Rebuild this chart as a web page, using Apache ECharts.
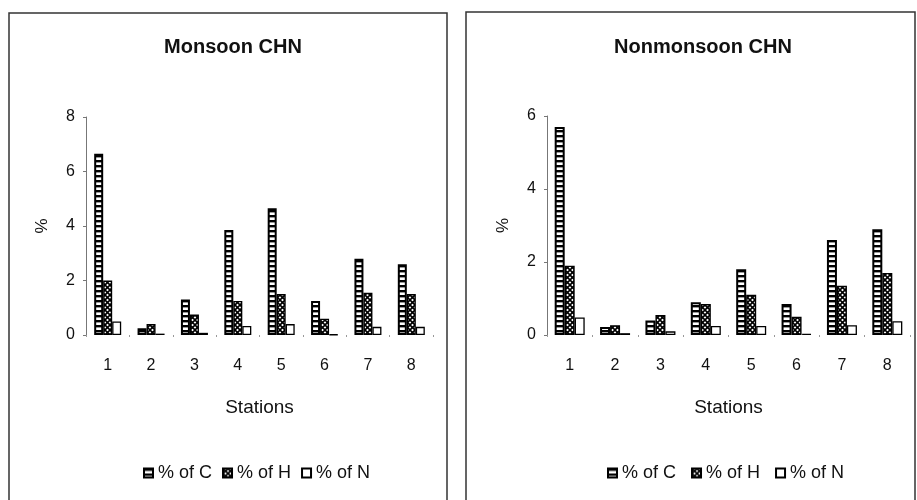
<!DOCTYPE html>
<html>
<head>
<meta charset="utf-8">
<script src="https://cdn.jsdelivr.net/npm/echarts@6/dist/echarts.min.js"></script>
<style>
  html, body { margin: 0; padding: 0; background: #fff; }
  #chart { width: 917px; height: 500px; }
</style>
</head>
<body>
<div id="chart"></div>
<script>
// ---- data ----
const stations = ['1', '2', '3', '4', '5', '6', '7', '8'];
const seriesNames = ['% of C', '% of H', '% of N'];
const monsoonC = [6.65, 0.25, 1.3, 3.85, 4.65, 1.25, 2.8, 2.6];
const monsoonH = [2.0, 0.4, 0.75, 1.25, 1.5, 0.6, 1.55, 1.5];
const monsoonN = [0.5, 0.05, 0.08, 0.33, 0.4, 0.02, 0.3, 0.3];
const nonmonsoonC = [5.7, 0.22, 0.4, 0.9, 1.8, 0.85, 2.6, 2.9];
const nonmonsoonH = [1.9, 0.27, 0.55, 0.85, 1.1, 0.5, 1.35, 1.7];
const nonmonsoonN = [0.48, 0.05, 0.1, 0.25, 0.25, 0.03, 0.27, 0.38];
const monsoonTicks = { max: 8, interval: 2 };
const nonmonsoonTicks = { max: 6, interval: 2 };

// ---- patterns ----
function stripePattern() {
  const c = document.createElement('canvas');
  c.width = 8; c.height = 5;
  const g = c.getContext('2d');
  g.fillStyle = '#fff'; g.fillRect(0, 0, 8, 5);
  g.fillStyle = '#000'; g.fillRect(0, 0, 8, 2.4);
  return c;
}
function hatchPattern() {
  const c = document.createElement('canvas');
  c.width = 5; c.height = 5;
  const g = c.getContext('2d');
  g.fillStyle = '#fff'; g.fillRect(0, 0, 5, 5);
  g.strokeStyle = '#000'; g.lineWidth = 1.6;
  g.beginPath();
  g.moveTo(0, 0); g.lineTo(5, 5);
  g.moveTo(5, 0); g.lineTo(0, 5);
  g.stroke();
  return c;
}
const styles = [
  { color: { image: stripePattern(), repeat: 'repeat' }, borderColor: '#000', borderWidth: 2 },
  { color: { image: hatchPattern(), repeat: 'repeat' }, borderColor: '#000', borderWidth: 1.4 },
  { color: '#fff', borderColor: '#000', borderWidth: 1.3 }
];

const FONT = 'Liberation Sans, Arial, sans-serif';

function makeSeries(idx, arrs, bw) {
  return arrs.map((d, i) => ({
    name: seriesNames[i],
    type: 'bar',
    xAxisIndex: idx,
    yAxisIndex: idx,
    data: d,
    barWidth: bw,
    barGap: '0%',
    itemStyle: styles[i],
    emphasis: { disabled: true },
    animation: false
  }));
}

function xAxis(idx) {
  return {
    type: 'category',
    gridIndex: idx,
    data: stations,
    name: 'Stations',
    nameLocation: 'middle',
    nameGap: 63,
    nameTextStyle: { fontFamily: FONT, fontSize: 19, color: '#111' },
    axisLine: { show: false },
    axisTick: { show: true, length: 2, lineStyle: { color: '#999' } },
    axisLabel: { fontFamily: FONT, fontSize: 16, color: '#111', margin: 23 },
    splitLine: { show: false }
  };
}
function yAxis(idx, t) {
  return {
    type: 'value',
    gridIndex: idx,
    min: 0,
    max: t.max,
    interval: t.interval,
    name: '%',
    nameLocation: 'middle',
    nameGap: 35,
    nameTextStyle: { fontFamily: FONT, fontSize: 17, color: '#111' },
    axisLine: { show: true, lineStyle: { color: '#777', width: 1 } },
    axisTick: { show: true, length: 3, lineStyle: { color: '#777' } },
    axisLabel: { fontFamily: FONT, fontSize: 16, color: '#111', margin: 11 },
    splitLine: { show: false }
  };
}
function legend(left, gap) {
  return {
    left: left,
    top: 464,
    padding: 0,
    icon: 'rect',
    itemWidth: 9,
    itemHeight: 9,
    itemGap: gap,
    selectedMode: false,
    data: seriesNames,
    textStyle: { fontFamily: FONT, fontSize: 18, color: '#111' }
  };
}

const chart = echarts.init(document.getElementById('chart'), null, { renderer: 'canvas' });
chart.setOption({
  backgroundColor: '#fff',
  animation: false,
  title: [
    { text: 'Monsoon CHN', left: 228, top: 32, textAlign: 'center',
      textStyle: { fontFamily: FONT, fontSize: 20, fontWeight: 'bold', color: '#111' } },
    { text: 'Nonmonsoon CHN', left: 698, top: 32, textAlign: 'center',
      textStyle: { fontFamily: FONT, fontSize: 20, fontWeight: 'bold', color: '#111' } }
  ],
  legend: [legend(143, 10), legend(607, 15)],
  grid: [
    { left: 86, top: 117, width: 347, height: 218 },
    { left: 547, top: 116, width: 363, height: 219 }
  ],
  xAxis: [xAxis(0), xAxis(1)],
  yAxis: [yAxis(0, monsoonTicks), yAxis(1, nonmonsoonTicks)],
  graphic: [
    { type: 'rect', shape: { x: 9, y: 13, width: 438, height: 500 }, silent: true,
      style: { fill: 'none', stroke: '#333', lineWidth: 1.5 } },
    { type: 'rect', shape: { x: 466, y: 12, width: 449, height: 500 }, silent: true,
      style: { fill: 'none', stroke: '#333', lineWidth: 1.5 } }
  ],
  series: [
    ...makeSeries(0, [monsoonC, monsoonH, monsoonN], 9),
    ...makeSeries(1, [nonmonsoonC, nonmonsoonH, nonmonsoonN], 10)
  ]
});
</script>
</body>
</html>
